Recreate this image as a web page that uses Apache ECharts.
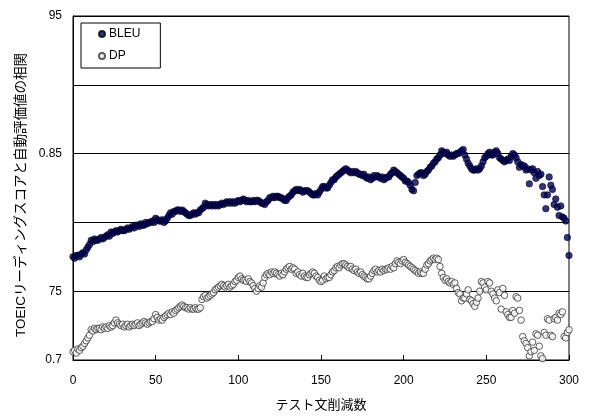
<!DOCTYPE html>
<html>
<head>
<meta charset="utf-8">
<script src="https://cdn.jsdelivr.net/npm/echarts@6/dist/echarts.min.js"></script>
<style>
  html, body { margin: 0; padding: 0; background: #fff; }
  #chart { width: 592px; height: 417px; }
</style>
</head>
<body>
<div id="chart"></div>
<script>
// Correlation between TOEIC reading score and automatic evaluation scores,
// as test sentences are removed (0..300).
const seriesNames = ['BLEU', 'DP'];

const bleu = [
  0.775, 0.774, 0.776, 0.776, 0.775, 0.777, 0.778, 0.777, 0.780, 0.782,
  0.784, 0.787, 0.786, 0.788, 0.787, 0.787, 0.788, 0.789, 0.788, 0.789,
  0.790, 0.791, 0.790, 0.793, 0.792, 0.793, 0.794, 0.793, 0.794, 0.795,
  0.794, 0.794, 0.795, 0.796, 0.795, 0.796, 0.797, 0.796, 0.798, 0.798,
  0.797, 0.799, 0.798, 0.798, 0.800, 0.799, 0.800, 0.800, 0.801, 0.800,
  0.803, 0.802, 0.801, 0.801, 0.802, 0.800, 0.801, 0.803, 0.805, 0.807,
  0.806, 0.808, 0.808, 0.809, 0.809, 0.808, 0.809, 0.808, 0.807, 0.806,
  0.805, 0.805, 0.806, 0.807, 0.806, 0.807, 0.807, 0.809, 0.810, 0.811,
  0.814, 0.813, 0.812, 0.813, 0.812, 0.813, 0.812, 0.813, 0.812, 0.813,
  0.814, 0.813, 0.814, 0.815, 0.814, 0.815, 0.814, 0.815, 0.814, 0.815,
  0.816, 0.815, 0.816, 0.817, 0.816, 0.815, 0.816, 0.815, 0.815, 0.816,
  0.815, 0.816, 0.816, 0.815, 0.814, 0.814, 0.813, 0.815, 0.816, 0.818,
  0.818, 0.819, 0.818, 0.819, 0.819, 0.818, 0.818, 0.817, 0.816, 0.816,
  0.818, 0.819, 0.820, 0.822, 0.823, 0.824, 0.823, 0.824, 0.823, 0.822,
  0.823, 0.823, 0.823, 0.822, 0.821, 0.820, 0.820, 0.821, 0.820, 0.822,
  0.824, 0.826, 0.826, 0.825, 0.825, 0.827, 0.829, 0.831, 0.831, 0.833,
  0.834, 0.835, 0.836, 0.837, 0.838, 0.839, 0.838, 0.837, 0.836, 0.837,
  0.836, 0.837, 0.836, 0.835, 0.835, 0.834, 0.835, 0.833, 0.832, 0.833,
  0.831, 0.832, 0.834, 0.833, 0.834, 0.833, 0.832, 0.833, 0.831, 0.832,
  0.833, 0.833, 0.835, 0.836, 0.838, 0.837, 0.836, 0.835, 0.834, 0.833,
  0.832, 0.830, 0.830, 0.829, 0.827, 0.824, 0.823, 0.829, 0.834, 0.835,
  0.836, 0.836, 0.834, 0.835, 0.837, 0.838, 0.840, 0.841, 0.843, 0.844,
  0.846, 0.847, 0.849, 0.852, 0.851, 0.850, 0.851, 0.849, 0.848, 0.849,
  0.848, 0.849, 0.850, 0.850, 0.851, 0.852, 0.853, 0.849, 0.846, 0.843,
  0.841, 0.839, 0.838, 0.838, 0.839, 0.838, 0.839, 0.841, 0.844, 0.847,
  0.848, 0.850, 0.851, 0.849, 0.849, 0.851, 0.852, 0.850, 0.847, 0.846,
  0.845, 0.844, 0.845, 0.846, 0.845, 0.848, 0.850, 0.849, 0.847, 0.844,
  0.840, 0.842, 0.841, 0.841, 0.838, 0.839, 0.828, 0.838, 0.839, 0.836,
  0.832, 0.837, 0.834, 0.835, 0.826, 0.820, 0.810, 0.820, 0.833, 0.827,
  0.824, 0.813, 0.817, 0.811, 0.805, 0.812, 0.804, 0.803, 0.801, 0.789,
  0.776
];

const dp = [
  0.706, 0.707, 0.705, 0.708, 0.707, 0.709, 0.710, 0.712, 0.714, 0.716,
  0.718, 0.722, 0.721, 0.723, 0.722, 0.723, 0.723, 0.722, 0.724, 0.723,
  0.724, 0.723, 0.725, 0.724, 0.725, 0.727, 0.729, 0.727, 0.726, 0.725,
  0.726, 0.724, 0.725, 0.726, 0.724, 0.725, 0.726, 0.725, 0.726, 0.727,
  0.725, 0.726, 0.727, 0.728, 0.727, 0.726, 0.727, 0.728, 0.728, 0.730,
  0.733, 0.731, 0.729, 0.730, 0.729, 0.731, 0.732, 0.733, 0.734, 0.733,
  0.735, 0.734, 0.736, 0.737, 0.738, 0.739, 0.740, 0.739, 0.738, 0.738,
  0.737, 0.738, 0.737, 0.737, 0.738, 0.737, 0.737, 0.738, 0.744, 0.746,
  0.747, 0.745, 0.746, 0.747, 0.748, 0.749, 0.751, 0.752, 0.753, 0.754,
  0.755, 0.754, 0.753, 0.754, 0.755, 0.753, 0.754, 0.755, 0.757, 0.758,
  0.760, 0.761, 0.759, 0.758, 0.758, 0.757, 0.759, 0.757, 0.756, 0.754,
  0.752, 0.750, 0.752, 0.754, 0.753, 0.756, 0.760, 0.762, 0.763, 0.762,
  0.764, 0.763, 0.764, 0.763, 0.762, 0.761, 0.763, 0.762, 0.764, 0.766,
  0.767, 0.768, 0.766, 0.767, 0.766, 0.763, 0.764, 0.762, 0.761, 0.763,
  0.761, 0.760, 0.760, 0.762, 0.763, 0.764, 0.763, 0.761, 0.760, 0.758,
  0.757, 0.758, 0.761, 0.759, 0.760, 0.760, 0.762, 0.764, 0.765, 0.767,
  0.768, 0.767, 0.769, 0.770, 0.770, 0.769, 0.768, 0.767, 0.768, 0.766,
  0.765, 0.766, 0.764, 0.763, 0.764, 0.762, 0.761, 0.760, 0.759, 0.759,
  0.761, 0.763, 0.765, 0.766, 0.764, 0.765, 0.764, 0.766, 0.765, 0.766,
  0.766, 0.767, 0.766, 0.768, 0.767, 0.770, 0.772, 0.771, 0.770, 0.772,
  0.773, 0.771, 0.770, 0.769, 0.768, 0.767, 0.766, 0.765, 0.764, 0.763,
  0.764, 0.763, 0.763, 0.766, 0.769, 0.770, 0.772, 0.773, 0.774, 0.773,
  0.774, 0.773, 0.768, 0.763, 0.760, 0.758, 0.759, 0.757, 0.756, 0.757,
  0.755, 0.756, 0.752, 0.749, 0.748, 0.743, 0.745, 0.745, 0.748, 0.751,
  0.744, 0.743, 0.741, 0.739, 0.742, 0.745, 0.750, 0.757, 0.756, 0.753,
  0.751, 0.757, 0.756, 0.750, 0.748, 0.745, 0.743, 0.751, 0.749, 0.737,
  0.752, 0.747, 0.735, 0.733, 0.731, 0.731, 0.736, 0.734, 0.746, 0.745,
  0.736, 0.729, 0.717, 0.714, 0.712, 0.709, 0.703, 0.706, 0.713, 0.707,
  0.719, 0.718, 0.710, 0.703, 0.701, 0.720, 0.718, 0.730, 0.729, 0.718,
  0.717, 0.730, 0.731, 0.729, 0.734, 0.733, 0.735, 0.717, 0.716, 0.720,
  0.722
];

// Tick labels on the correlation axis, keyed by hundredths
const yTickLabels = { 70: '0.7', 75: '75', 80: '', 85: '0.85', 90: '', 95: '95' };
const xTitle = 'テスト文削減数';
const yTitle = 'TOEICリーディングスコアと自動評価値の相関';

const FONT = '"Liberation Sans", Arial, "Noto Sans CJK JP", sans-serif';

const toPairs = arr => arr.map((v, i) => [i, v]);

const chart = echarts.init(document.getElementById('chart'), null, { renderer: 'canvas' });
chart.setOption({
  animation: false,
  backgroundColor: '#fff',
  textStyle: { fontFamily: FONT, color: '#000' },
  grid: {
    left: 73, right: 23, top: 16, bottom: 52,
    show: true, borderColor: '#000', borderWidth: 1, backgroundColor: 'transparent'
  },
  legend: {
    left: 81, top: 23,
    orient: 'vertical',
    backgroundColor: '#fff',
    borderColor: '#000', borderWidth: 1,
    padding: [5, 20, 6, 17],
    itemGap: 10,
    itemWidth: 6, itemHeight: 6,
    textStyle: { fontFamily: FONT, fontSize: 12, color: '#000', padding: [0, 0, 0, -1] },
    data: seriesNames
  },
  xAxis: {
    type: 'value',
    min: 0, max: 300, interval: 50,
    name: xTitle,
    nameLocation: 'middle',
    nameGap: 39,
    nameTextStyle: { fontFamily: FONT, fontSize: 13, color: '#000' },
    axisLine: { show: true, onZero: false, lineStyle: { color: '#000', width: 1 } },
    axisTick: { show: true, inside: true, length: 5, lineStyle: { color: '#000' } },
    axisLabel: { fontSize: 12, color: '#000', margin: 15, fontFamily: FONT },
    splitLine: { show: false }
  },
  yAxis: {
    type: 'value',
    min: 0.7, max: 0.95, interval: 0.05,
    name: yTitle,
    nameLocation: 'middle',
    nameRotate: 90,
    nameGap: 41,
    nameTextStyle: { fontFamily: FONT, fontSize: 13.5, color: '#000', padding: [0, 14, 0, 0] },
    axisLine: { show: true, lineStyle: { color: '#000', width: 1 } },
    axisTick: { show: false },
    axisLabel: {
      fontSize: 12, color: '#000', margin: 11, fontFamily: FONT,
      formatter: v => yTickLabels[Math.round(v * 100)] ?? ''
    },
    splitLine: { show: true, lineStyle: { color: '#000', width: 1 } }
  },
  series: [
    {
      name: seriesNames[0],
      type: 'scatter',
      symbol: 'circle',
      symbolSize: 6.5,
      itemStyle: { color: '#000066', borderColor: '#000', borderWidth: 0.7 },
      data: toPairs(bleu),
      z: 3
    },
    {
      name: seriesNames[1],
      type: 'scatter',
      symbol: 'circle',
      symbolSize: 6.5,
      itemStyle: { color: '#fff', borderColor: '#333', borderWidth: 1 },
      data: toPairs(dp),
      z: 2
    }
  ]
});
</script>
</body>
</html>
